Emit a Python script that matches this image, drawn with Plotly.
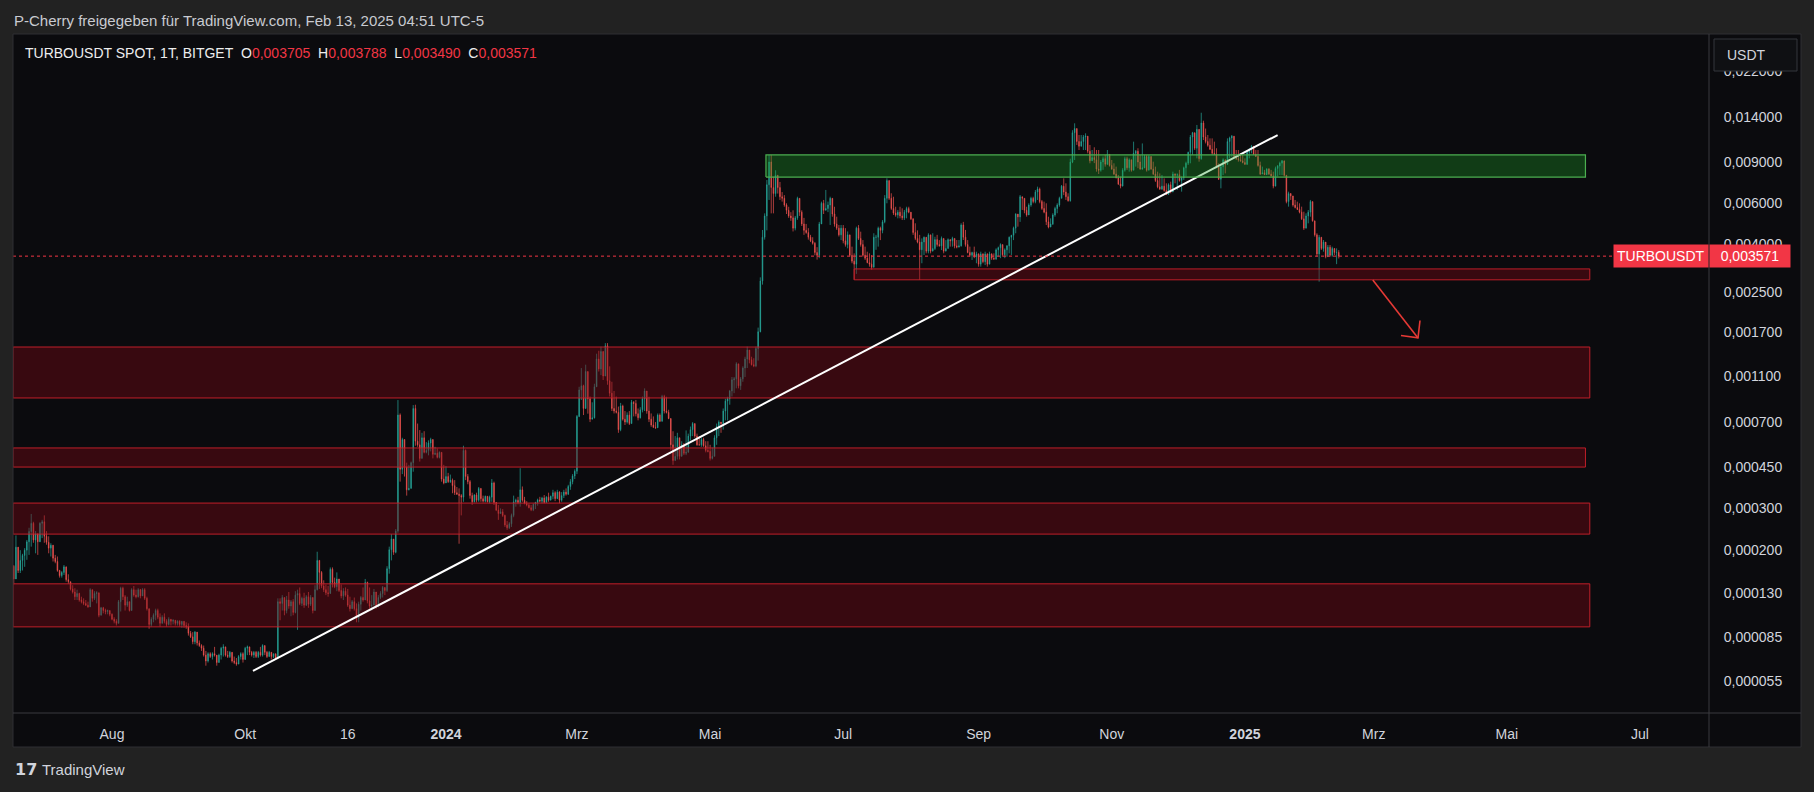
import math
import pandas as pd
import plotly.graph_objects as go

# ---------------- data (prices in micro-USDT, 1e-6 USDT; daily candles) ----------------
LAST_DAY = "2025-02-13"
OPEN_FIRST = 170

CLOSE_U = [
    # Jun - Oct 2023
    150,205,163,180,189,199,216,239,259,220, 234,216,259,263,228,215,203,209,184,178,
    163,155,160,169,149,146,136,132,126,130, 122,120,118,116,114,135,124,130,131,105,
    113,110,109,110,106,101,99,97,120,137, 126,116,120,110,135,128,126,135,127,135,
    124,112,96,101,105,110,103,97,103,99, 96,101,99,100,97,99,96,99,95,94,
    88,85,81,89,80,78,76,71,67,72, 70,72,71,66,71,76,77,71,70,73,
    67,66,65,70,72,68,76,77,73,71, 73,70,73,71,78,73,70,73,70,72, 69,120,
    # Oct 2023 - Feb 2024
    118,125,110,122,115,120,108,128,130,118, 124,116,126,117,125,110,135,180,160,140,
    135,131,130,165,145,139,150,134,127,133, 128,116,112,120,112,102,117,125,122,145,
    121,115,116,132,114,125,130,138,134,166, 200,222,195,240,750,440,590,450,360,365,
    470,800,580,560,490,600,520,530,570,590, 510,515,495,520,400,385,410,390,395,375,
    350,345,340,335,530,410,390,340,320,342, 325,365,330,322,338,320,335,385,318,295,
    285,290,280,255,248,258,280,320,325,318, 360,325,315,310,302,296,312,318,326,322,
    332,318,335,325,338,350,330,352,325,
    # Feb - Jun 2024
    340,352,345,372,390,412,432,
    740,960,1000,800,1150,880,720,730,990, 1300,1180,1400,1100,1480,1050,930,800,780,770,
    650,820,720,700,750,690,850,840,760,730,790, 880,950,780,720,680,665,662,750,705,900,
    780,770,725,560,480,500,600,500,560, 515,520,610,650,690,610,560,560,590,555,530,
    525,490,500,600,670,700,690,780,860,880,950,1060,1070,1240,1000, 1070,1190,1300,1420,1290,
    1230,1215,1440,1700,2800,4300,5300,7200,9000,7000, 6600,7900,7000,6400,6300,5900,5600,5300,5200,4700,
    5200,6300,5500,4900,4600,4500,4300,4150,4050,3700, 3600,4900,
    # Jul - Oct 2024
    6000,5600,5700,5900,6300,5400,4900,4700,4400,4700, 4150,4000,4400,3600,3400,3300,4700,4250,4000,3600,
    3500,3350,3300,3200,4300,4300,4700,4600,5000,6300, 7500,6300,5700,5450,5350,5500,5300,5200,5500,5700,
    5500,5150,4500,4250,4100,3800,4100,4300,3750,4400, 3750,3850,4200,4000,3950,4250,3750,3850,4200,4150,
    4250,3950,3900,3950,4850,4300,4000,3700,3600,3700, 3550,3650,3300,3650,3380,3650,3300,3650,3500,3470,
    3800,3880,4000,3620,3800,3950,4300,4380,4700,5400, 5250,6400,6300,5600,5350,5900,6300,6100,6700,6900,
    6100,5700,5500,5000,4750,4900,5350,5700,5900,6300, 7100,6700,6400,6150,9000,12000,12500,11000,10500,11000,
    11500,11600,10000,9100,9400,9200,8400,8300,
    # Nov 2024 - Feb 2025
    9000,9300,8800,9700,8700,8400,8000,7700,7250,7100, 8300,9300,8500,9200,8300,9800,10000,9000,8400,8500,
    9500,8300,9500,8400,8000,7500,7050,6900,7100,6800, 6550,7200,6700,8000,7900,7950,7500,7700,8500,8900,
    9900,11500,12000,10300,12400,9300,13200,11500,11000,10600, 10200,9800,9700,8600,7600,8600,9200,8800,11000,11400,
    11600,9500,9300,9200,9100,8950,8800,9900,10200,10500, 9700,9500,8700,8000,8100,7950,8400,8000,7850,7100,
    8450,8650,8900,9100,7900,6100,6600,6450,5900,5750, 5650,5500,5150,4700,5300,5500,6100,5050,4400,3650,
    4300,3850,4100,3550,3900,3600,3850,3700,3705,3571,
]

HIGH_U = [
    172,230,187,199,192,203,220,248,284,263, 240,222,262,268,280,240,228,213,205,190,
    187,164,162,172,160,157,143,141,137,135, 131,126,124,122,120,137,131,133,133,118,
    114,114,112,111,110,107,103,101,122,139, 139,128,126,118,137,140,135,137,136,137,
    137,126,112,103,107,112,112,107,105,107, 101,103,101,101,100,100,100,99,98,98,
    97,90,89,90,85,82,79,78,74,73, 73,73,77,71,72,77,79,76,74,74,
    73,70,69,71,73,73,77,78,77,74, 74,74,74,77,79,77,74,74,73,72, 72,124,
    124,128,125,127,132,122,123,133,135,138, 126,131,128,132,128,124,141,196,178,162,
    148,142,140,168,168,152,160,148,142,137, 138,136,126,122,125,118,120,127,138,150,
    146,138,128,136,130,128,133,140,135,170, 206,233,215,245,869,762,600,560,470,460,
    475,827,830,690,647,630,640,575,585,600, 585,549,540,525,500,460,455,425,418,402,
    396,370,365,345,555,535,420,396,350,345, 350,370,365,340,340,338,340,400,390,315,
    310,300,298,282,265,262,285,340,330,336, 445,372,336,322,315,310,315,320,330,336,
    336,342,338,350,340,360,355,360,355,
    352,360,365,378,400,420,440,
    750,990,1190,1010,1230,1150,900,850,1020, 1370,1410,1467,1400,1520,1520,1210,1040,950,900,
    815,845,830,780,770,780,870,860,870,800,810, 900,975,950,898,762,740,700,762,762,915,
    915,898,790,712,640,610,630,575,580, 570,645,625,670,700,680,625,610,600,600,580,
    580,560,545,615,690,712,700,800,880,898,960,1090,1090,1260,1150, 1090,1210,1330,1467,1420,
    1330,1310,1467,1770,2900,4616,5435,7540,9650,9650, 7790,8300,7900,7400,6700,6500,6000,5800,5500,5600,
    5300,6400,6300,5600,5200,4900,4700,4400,4300,4100, 3900,5000,
    6100,6200,6840,6100,6400,6200,5800,5260,4850,4850, 4845,4700,4550,4180,3920,3670,4770,4845,4540,4180,
    3920,3730,3670,3610,4470,4400,4770,4770,5090,6500, 7665,7180,6620,6400,5800,5620,5800,5710,5620,5800,
    5800,5350,5176,4930,4600,4400,4250,4330,4180,4470, 4330,4470,4320,4400,4180,4330,4250,4180,4250,4183,
    4320,4183,4183,4183,4930,5000,4620,4180,3920,3730, 3920,3730,3670,3730,3670,3730,3670,3730,3670,3670,
    3855,3920,4050,3920,3855,3980,4330,4400,4770,5440, 5350,6510,6400,6200,5800,6000,6400,6400,6838,7065,
    7000,6200,6100,6000,5260,5176,5440,5800,6000,6400, 7180,7665,7300,6620,9300,12300,13160,12300,11735,11735,
    11735,11930,11170,10640,10125,10400,10125,10125,
    9180,9500,9650,10125,9330,9180,8885,8600,7920,7800, 8470,9480,9480,9330,9180,10990,10125,10300,9650,10800,
    9650,9650,9650,9480,9030,8600,8185,8050,7920,7665, 7300,7300,7420,8185,8050,8050,8330,7800,8600,9030,
    9960,11735,12100,12000,12950,12400,14600,13500,12500,11735, 11350,11350,10990,10300,8885,8740,9330,9180,11350,11540,
    11735,10990,10125,10125,9800,9650,9330,10125,10300,10640, 10460,10125,10125,9030,8600,8330,8470,8470,8330,8185,
    8600,8740,9030,9180,9100,7920,6725,6618,6405,6200, 6097,5998,5805,5526,5436,5617,6200,6097,5010,4470,
    4396,4254,4183,3983,3983,3983,3918,3855,3855,3788,
]

LOW_U = [
    142,159,159,159,163,169,181,190,206,214, 193,190,216,224,214,210,193,187,178,175,
    161,152,152,156,146,143,134,130,122,122, 120,118,116,115,113,118,120,122,118,103,
    105,107,106,106,104,100,97,95,98,109, 122,110,114,109,112,126,124,125,124,128,
    122,110,92,94,98,100,101,94,97,97, 94,95,95,96,95,95,94,93,93,92,
    86,84,79,79,78,77,74,70,64,66, 69,68,70,64,66,68,70,70,69,69,
    66,65,64,65,68,66,70,71,71,70, 69,69,69,70,70,71,69,70,68,69, 68,69,
    100,110,105,107,112,104,105,107,91,116, 115,113,115,113,115,107,112,134,136,137,
    132,128,126,130,138,137,133,132,124,122, 126,114,109,112,110,98,98,110,120,125,
    118,112,110,118,112,118,123,125,128,132, 158,180,190,193,236,390,420,410,340,358,
    425,430,555,549,475,515,515,515,505,525, 490,506,490,490,390,380,396,385,385,348,
    342,342,212,280,320,396,380,330,310,318, 318,320,320,318,318,318,315,320,310,292,
    268,285,276,250,243,245,250,275,305,312, 305,320,312,306,300,292,292,298,308,318,
    315,315,320,320,326,328,322,330,315,
    320,332,340,342,360,380,400,
    420,735,870,750,840,760,700,720,725, 1000,1150,1110,1058,1160,1010,900,780,762,762,
    630,640,710,680,690,680,690,740,740,712,725, 770,780,760,700,668,660,655,690,700,740,
    762,762,720,530,460,490,485,485,530, 506,506,549,585,610,600,555,555,549,549,520,
    520,480,485,500,560,610,630,650,712,712,830,900,930,975,975, 960,1040,1090,1190,1246,
    1220,1200,1200,1280,1690,2700,4200,4600,6200,5435, 5435,6400,6600,6200,6100,5800,5400,5200,5050,4550,
    4600,5100,5300,4800,4400,4450,4200,4100,4000,3600, 3450,3500,
    4900,5400,5600,5500,4850,5260,4770,4620,4330,4180, 4050,3920,3855,3550,3330,2830,3000,4183,3920,3550,
    3440,3330,3220,3120,3440,3800,3920,4180,4470,4930, 6000,6200,5620,5350,5260,5176,5176,5090,5090,5176,
    5440,5090,4400,4180,4050,2830,3330,3610,3670,3670, 3670,3790,3790,3920,3920,3790,3670,3790,3855,3920,
    3920,3855,3855,3920,3920,4183,3920,3670,3550,3440, 3500,3330,3220,3220,3330,3270,3220,3330,3440,3440,
    3440,3550,3500,3550,3500,3550,3670,3611,4180,4470, 4770,5000,5620,5440,5260,5620,5800,6000,6000,6200,
    6000,5620,5440,4845,4692,4770,4845,5260,5440,5800, 6400,6500,6200,6100,6100,8900,9180,10640,10125,10640,
    10125,10125,9800,8885,9330,8900,8185,8000,
    8185,8330,8600,8750,8600,8330,7920,7665,7180,6950, 7100,8185,8330,8185,8185,8330,8600,8470,8330,8330,
    8470,8185,8300,8330,7920,7400,6950,6838,6838,6725, 6510,6510,6618,6700,7300,6838,7420,6725,7540,7800,
    8740,8885,9650,10125,9330,9030,9200,11170,10800,10460, 10125,9650,9650,8470,7540,6950,7920,8050,8740,9330,
    9480,9330,9180,9030,9030,8885,8740,8740,9330,9800, 9650,9480,8600,7920,8050,7920,7920,7920,7800,6950,
    7100,7800,7920,7920,7800,5998,5805,6200,5805,5710, 5617,5436,5092,4616,4692,4928,5260,5010,4324,3552,
    2780,3792,3731,3495,3552,3552,3552,3611,3300,3490,
]

UNIT = 1e-6

Y_TICKS = [0.000055, 0.000085, 0.00013, 0.0002, 0.0003, 0.00045, 0.0007, 0.0011,
           0.0017, 0.0025, 0.004, 0.006, 0.009, 0.014, 0.022]
Y_TICK_TEXT = [f"{v:.6f}".replace(".", ",") for v in Y_TICKS]

X_TICKS = ["2023-08-01", "2023-10-01", "2023-11-17", "2024-01-01", "2024-03-01", "2024-05-01",
           "2024-07-01", "2024-09-01", "2024-11-01", "2025-01-01", "2025-03-01", "2025-05-01", "2025-07-01"]
X_TICK_TEXT = ["Aug", "Okt", "16", "<b>2024</b>", "Mrz", "Mai", "Jul", "Sep", "Nov",
               "<b>2025</b>", "Mrz", "Mai", "Jul"]

X_START, X_END = "2023-06-16 15:36", "2025-08-01 14:24"
Y_MIN, Y_MAX = 4.022e-5, 0.03163

RED_ZONES = [  # (start, end, low, high)
    ("2024-07-06", "2025-06-08", 0.00283, 0.00315),
    (X_START, "2025-06-08", 0.000887, 0.001463),
    (X_START, "2025-06-06", 0.000450, 0.000543),
    (X_START, "2025-06-08", 0.000233, 0.000316),
    (X_START, "2025-06-08", 0.0000937, 0.000143),
]
GREEN_ZONE = ("2024-05-26 14:00", "2025-06-06", 0.00776, 0.00965)

TREND_X = ["2023-10-04 14:00", "2025-01-16"]
TREND_Y = [0.0000608, 0.01173]
ARROW_X = ["2025-02-28 14:00", "2025-03-21 07:00"]
ARROW_Y = [0.002825, 0.0016]
HEAD_X = ["2025-03-13 12:00", "2025-03-21 07:00", "2025-03-22 05:00"]
HEAD_Y = [0.001638, 0.0016, 0.001898]

UP, DOWN = "#26a69a", "#ef5350"
TAG_RED = "#f23645"

# ---------------- build ----------------
dates = pd.date_range(end=LAST_DAY, periods=len(CLOSE_U), freq="D")
opens = [OPEN_FIRST] + CLOSE_U[:-1]
o = [v * UNIT for v in opens]
c = [v * UNIT for v in CLOSE_U]
h = [max(a, b, x) * UNIT for a, b, x in zip(HIGH_U, opens, CLOSE_U)]
l = [min(a, b, x) * UNIT for a, b, x in zip(LOW_U, opens, CLOSE_U)]
last_close = c[-1]

W, H = 1814, 792
ML, MR, MT, MB = 13, 105, 34, 79
PW, PH = W - ML - MR, H - MT - MB


def px(xp):
    return (xp - ML) / PW


def py(yp):
    return (H - MB - yp) / PH


fig = go.Figure()

for s, e, lo, hi in RED_ZONES:
    fig.add_trace(go.Scatter(x=[s, e, e, s, s], y=[lo, lo, hi, hi, lo], mode="lines",
                             fill="toself", fillcolor="rgba(120,8,18,0.42)",
                             line=dict(color="rgba(200,32,42,0.95)", width=1),
                             hoverinfo="skip", showlegend=False))

fig.add_trace(go.Candlestick(
    x=dates, open=o, high=h, low=l, close=c,
    increasing=dict(line=dict(color=UP, width=0.7), fillcolor=UP),
    decreasing=dict(line=dict(color=DOWN, width=0.7), fillcolor=DOWN),
    whiskerwidth=0, hoverinfo="skip", showlegend=False))

fig.add_trace(go.Scatter(x=TREND_X, y=TREND_Y, mode="lines",
                         line=dict(color="#ffffff", width=2), hoverinfo="skip", showlegend=False))

s, e, lo, hi = GREEN_ZONE
fig.add_trace(go.Scatter(x=[s, e, e, s, s], y=[lo, lo, hi, hi, lo], mode="lines",
                         fill="toself", fillcolor="rgba(30,160,40,0.33)",
                         line=dict(color="#4caf50", width=1.2), hoverinfo="skip", showlegend=False))

fig.add_trace(go.Scatter(x=[X_START, X_END], y=[last_close, last_close], mode="lines",
                         line=dict(color=TAG_RED, width=1, dash="dot"), hoverinfo="skip", showlegend=False))

fig.add_trace(go.Scatter(x=ARROW_X, y=ARROW_Y, mode="lines",
                         line=dict(color="#e53935", width=1.6), hoverinfo="skip", showlegend=False))
fig.add_trace(go.Scatter(x=HEAD_X, y=HEAD_Y, mode="lines",
                         line=dict(color="#e53935", width=1.6), hoverinfo="skip", showlegend=False))

FONT = "Liberation Sans, Arial, sans-serif"
PANEL = "#0b0b0e"
FRAME = "#3b3b3f"

shapes = [
    dict(type="rect", xref="paper", yref="paper", x0=px(13), x1=px(1801), y0=py(747), y1=py(34),
         fillcolor=PANEL, line=dict(width=0), layer="below"),
    dict(type="rect", xref="paper", yref="paper", x0=px(13), x1=px(1801), y0=py(747), y1=py(34),
         fillcolor="rgba(0,0,0,0)", line=dict(color="#2e2e32", width=1), layer="above"),
    dict(type="line", xref="paper", yref="paper", x0=1, x1=1, y0=py(747), y1=py(34),
         line=dict(color=FRAME, width=1), layer="above"),
    dict(type="line", xref="paper", yref="paper", x0=px(13), x1=px(1801), y0=0, y1=0,
         line=dict(color=FRAME, width=1), layer="above"),
    dict(type="rect", xref="paper", yref="paper", x0=px(1714), x1=px(1797), y0=py(71), y1=py(39),
         fillcolor="#0f1013", line=dict(color="#34363c", width=1), layer="above"),
]

red_span = "<span style='color:%s'>%s</span>"
ohlc_txt = ("TURBOUSDT SPOT, 1T, BITGET\u00a0\u00a0O" + red_span % (TAG_RED, "0,003705") +
            "\u00a0\u00a0H" + red_span % (TAG_RED, "0,003788") +
            "\u00a0\u00a0L" + red_span % (TAG_RED, "0,003490") +
            "\u00a0\u00a0C" + red_span % (TAG_RED, f"{last_close:.6f}".replace(".", ",")))

annotations = [
    dict(text="P-Cherry freigegeben für TradingView.com, Feb 13, 2025 04:51 UTC-5",
         xref="paper", yref="paper", x=px(12), y=py(20), xanchor="left", yanchor="middle",
         showarrow=False, font=dict(family=FONT, size=15, color="#c9cbd1")),
    dict(text=ohlc_txt, xref="paper", yref="paper", x=px(23), y=py(53), xanchor="left",
         yanchor="middle", showarrow=False, font=dict(family=FONT, size=14, color="#eeeeee")),
    dict(text="USDT", xref="paper", yref="paper", x=px(1725), y=py(55), xanchor="left",
         yanchor="middle", showarrow=False, font=dict(family=FONT, size=14, color="#d1d4dc")),
    dict(text=f"{last_close:.6f}".replace(".", ","), xref="paper", yref="y", x=1,
         y=math.log10(last_close), xanchor="left", yanchor="middle", showarrow=False,
         bgcolor=TAG_RED, borderpad=3, width=74, align="center",
         font=dict(family=FONT, size=14, color="#ffffff")),
    dict(text="TURBOUSDT", xref="paper", yref="y", x=1, y=math.log10(last_close),
         xanchor="right", yanchor="middle", showarrow=False, bgcolor=TAG_RED, borderpad=3,
         font=dict(family=FONT, size=14, color="#ffffff")),
    dict(text="<b>17</b>", xref="paper", yref="paper", x=px(13), y=py(769), xanchor="left",
         yanchor="middle", showarrow=False, font=dict(family="DejaVu Sans", size=16, color="#d1d4dc")),
    dict(text="TradingView", xref="paper", yref="paper", x=px(40), y=py(769), xanchor="left",
         yanchor="middle", showarrow=False, font=dict(family=FONT, size=15, color="#d1d4dc")),
]

fig.update_layout(
    width=W, height=H, margin=dict(l=ML, r=MR, t=MT, b=MB),
    paper_bgcolor="#222222", plot_bgcolor=PANEL,
    font=dict(family=FONT, size=14, color="#d1d4dc"),
    showlegend=False, hovermode=False, boxgap=0.6,
    shapes=shapes, annotations=annotations,
    xaxis=dict(type="date", range=[X_START, X_END], tickvals=X_TICKS, ticktext=X_TICK_TEXT,
               ticks="outside", ticklen=8, tickcolor="rgba(0,0,0,0)", showgrid=False,
               zeroline=False, showline=False, rangeslider=dict(visible=False),
               tickfont=dict(family=FONT, size=14, color="#d1d4dc")),
    yaxis=dict(type="log", side="right", range=[math.log10(Y_MIN), math.log10(Y_MAX)],
               tickvals=Y_TICKS, ticktext=Y_TICK_TEXT, ticks="outside", ticklen=11,
               tickcolor="rgba(0,0,0,0)", showgrid=False, zeroline=False, showline=False,
               tickfont=dict(family=FONT, size=14, color="#d1d4dc")),
)

fig.write_html("out.html", config={"displayModeBar": False},
               post_script="document.body.style.margin='0px';document.body.style.overflow='hidden';")
